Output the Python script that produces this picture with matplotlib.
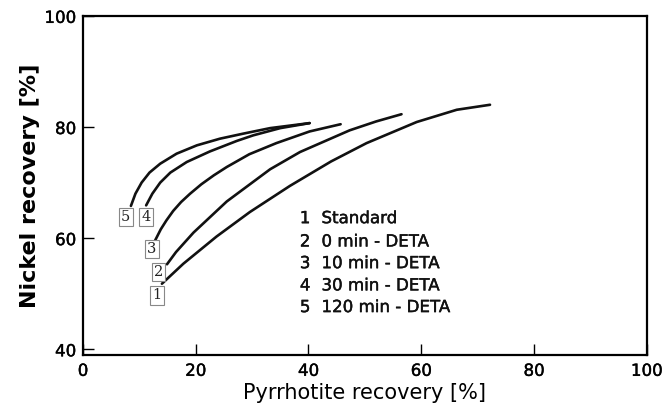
import matplotlib.pyplot as plt
import matplotlib.patheffects as pe

plt.rcParams['font.family'] = ['DejaVu Sans']

# curve data (pyrrhotite %, nickel %)
c1_x = [14.0, 17.8, 23.7, 29.6, 36.7, 44.0, 50.3, 59.2, 66.3, 72.2]
c1_y = [51.8, 55.4, 60.3, 64.7, 69.4, 73.8, 77.1, 80.9, 83.1, 84.0]
c2_x = [14.9, 16.5, 19.6, 25.5, 33.2, 38.5, 47.3, 52.0, 56.5]
c2_y = [55.3, 57.5, 61.0, 66.6, 72.4, 75.5, 79.4, 81.0, 82.3]
c3_x = [12.8, 13.8, 14.8, 16.0, 17.4, 19.0, 21.0, 23.2, 25.5, 29.5, 34.3, 40.2, 45.7]
c3_y = [59.6, 61.6, 63.2, 64.9, 66.5, 68.0, 69.7, 71.3, 72.8, 75.1, 77.1, 79.2, 80.5]
c4_x = [11.2, 12.3, 13.7, 15.5, 18.4, 22.5, 27.3, 30.2, 35.0, 40.2]
c4_y = [65.9, 68.0, 70.0, 71.8, 73.7, 75.6, 77.5, 78.5, 79.8, 80.7]
c5_x = [8.5, 9.3, 10.4, 11.8, 13.7, 16.6, 20.2, 24.3, 28.4, 33.2, 40.2]
c5_y = [65.8, 68.0, 70.0, 71.8, 73.4, 75.2, 76.7, 77.9, 78.8, 79.8, 80.7]

curves = [(c1_x, c1_y), (c2_x, c2_y), (c3_x, c3_y), (c4_x, c4_y), (c5_x, c5_y)]
box_labels = ['1', '2', '3', '4', '5']
box_x = [13.1, 13.4, 12.2, 11.2, 7.6]
box_y = [49.7, 53.9, 58.1, 63.8, 63.8]
legend_text = ['Standard', '0 min - DETA', '10 min - DETA',
               '30 min - DETA', '120 min - DETA']
legend_y = [63.6, 59.4, 55.5, 51.5, 47.6]

heavy = [pe.withStroke(linewidth=0.3, foreground='#111111')]

fig = plt.figure(figsize=(6.64, 4.17), dpi=100)
ax = fig.add_axes([0.125, 0.149, 0.849, 0.813])

for cx, cy in curves:
    ax.plot(cx, cy, color='#111111', lw=1.9, solid_capstyle='round',
            solid_joinstyle='round')

for lab, bx, by in zip(box_labels, box_x, box_y):
    ax.text(bx, by, lab, ha='center', va='center', fontsize=10.5,
            family='DejaVu Serif', color='#222222',
            bbox=dict(boxstyle='square,pad=0.15', fc='white', ec='#888888', lw=0.8))

for i, (t, ly) in enumerate(zip(legend_text, legend_y)):
    ax.text(39.4, ly, str(i + 1), ha='center', va='center', fontsize=12,
            color='#111111', path_effects=heavy)
    ax.text(42.3, ly, t, ha='left', va='center', fontsize=12,
            color='#111111', path_effects=heavy)

ax.set_xlim(0, 100)
ax.set_ylim(39, 100)
ax.set_xticks([0, 20, 40, 60, 80, 100])
ax.set_yticks([40, 60, 80, 100])
ax.tick_params(direction='in', length=8, width=1, labelsize=12, pad=5)
for lbl in ax.get_xticklabels() + ax.get_yticklabels():
    lbl.set_path_effects(heavy)
for s in ax.spines.values():
    s.set_linewidth(1.6)

ax.set_xlabel('Pyrrhotite recovery [%]', fontsize=15, labelpad=2)
ax.set_ylabel('Nickel recovery [%]', fontsize=16, fontweight='bold', labelpad=3)

fig.savefig('out.png', dpi=100)
